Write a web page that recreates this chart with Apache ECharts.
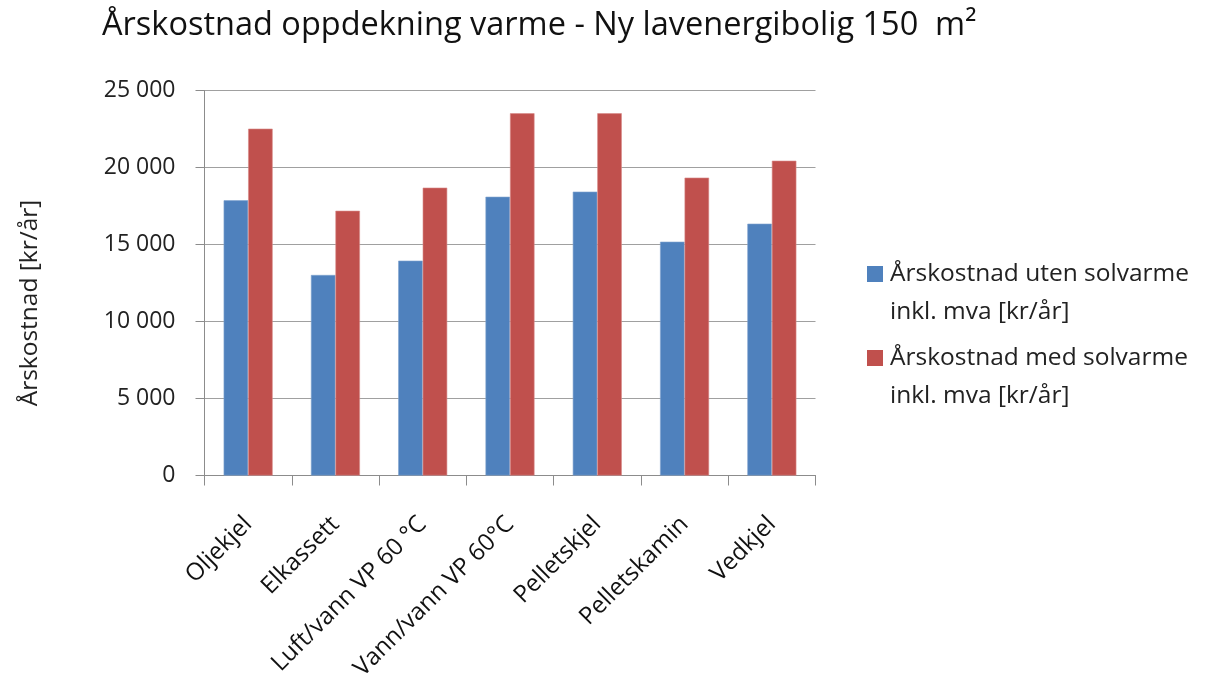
<!DOCTYPE html>
<html>
<head>
<meta charset="utf-8">
<script src="https://cdn.jsdelivr.net/npm/echarts@6/dist/echarts.min.js"></script>
<style>
  html, body { margin: 0; padding: 0; background: #fff; }
  #main { width: 1210px; height: 689px; }
</style>
</head>
<body>
<div id="main"></div>
<script>
// data
var categories = ['Oljekjel', 'Elkassett', 'Luft/vann VP 60 °C', 'Vann/vann VP 60°C', 'Pelletskjel', 'Pelletskamin', 'Vedkjel'];
var utenSolvarme = [17870, 13020, 13950, 18100, 18430, 15180, 16350];
var medSolvarme = [22520, 17190, 18690, 23520, 23520, 19340, 20440];
var seriesNames = ['Årskostnad uten solvarme\ninkl. mva [kr/år]', 'Årskostnad med solvarme\ninkl. mva [kr/år]'];
var yTicks = [0, 5000, 10000, 15000, 20000, 25000];
var yTickLabels = ['0', '5 000', '10 000', '15 000', '20 000', '25 000'];

var font = '"Open Sans", Lato, sans-serif';

// 初始化
var myChart = echarts.init(document.getElementById('main'));

// legend icon: square at the top, sitting on the first text line
var legendIcon = 'path://M0,0h16v16h-16z M0,53.99h0.01v0.01h-0.01z';

var option = {
    animation: false,
    backgroundColor: '#ffffff',
    title: {
        text: 'Årskostnad oppdekning varme - Ny lavenergibolig 150  m²',
        left: 97,
        top: 4,
        textStyle: {
            fontFamily: font,
            fontSize: 32.5,
            fontWeight: 'normal',
            color: '#111'
        }
    },
    legend: {
        orient: 'vertical',
        left: 862,
        top: 250,
        itemGap: 8,
        itemWidth: 16,
        itemHeight: 54,
        itemStyle: { borderWidth: 0 },
        data: [
            { name: seriesNames[0], icon: legendIcon },
            { name: seriesNames[1], icon: legendIcon }
        ],
        textStyle: {
            fontFamily: font,
            fontSize: 24.5,
            lineHeight: 38,
            color: '#222',
            padding: [0, 0, 0, 2]
        }
    },
    grid: {
        left: 204.5,
        right: 394.5,
        top: 90.5,
        bottom: 213.5,
        containLabel: false
    },
    xAxis: {
        type: 'category',
        data: categories,
        axisLine: { lineStyle: { color: '#8c8c8c', width: 1 } },
        axisTick: { show: true, length: 10, lineStyle: { color: '#8c8c8c' } },
        axisLabel: {
            rotate: 45,
            margin: 45,
            interval: 0,
            fontFamily: font,
            fontSize: 24,
            color: '#111'
        },
        splitLine: { show: false }
    },
    yAxis: {
        type: 'value',
        min: 0,
        max: 25000,
        interval: 5000,
        name: 'Årskostnad [kr/år]',
        nameLocation: 'middle',
        nameGap: 162,
        nameTextStyle: {
            fontFamily: font,
            fontSize: 24.5,
            color: '#222',
            padding: [0, 40, 0, 0]
        },
        axisLine: { show: true, lineStyle: { color: '#8c8c8c', width: 1 } },
        axisTick: { show: true, length: 9, lineStyle: { color: '#8c8c8c' } },
        axisLabel: {
            margin: 29,
            fontFamily: font,
            fontSize: 23,
            color: '#222',
            formatter: function (v) {
                return yTickLabels[yTicks.indexOf(v)];
            }
        },
        splitLine: { lineStyle: { color: '#a0a0a0', width: 1.2 } }
    },
    series: [
        {
            name: seriesNames[0],
            type: 'bar',
            data: utenSolvarme,
            barWidth: 24.5,
            barGap: '0%',
            itemStyle: { color: '#4F81BD', borderColor: '#7fa3cf', borderWidth: 0.6 }
        },
        {
            name: seriesNames[1],
            type: 'bar',
            data: medSolvarme,
            barWidth: 24.5,
            barGap: '0%',
            itemStyle: { color: '#C0504D', borderColor: '#d88a88', borderWidth: 0.6 }
        }
    ]
};

myChart.setOption(option);
</script>
</body>
</html>
